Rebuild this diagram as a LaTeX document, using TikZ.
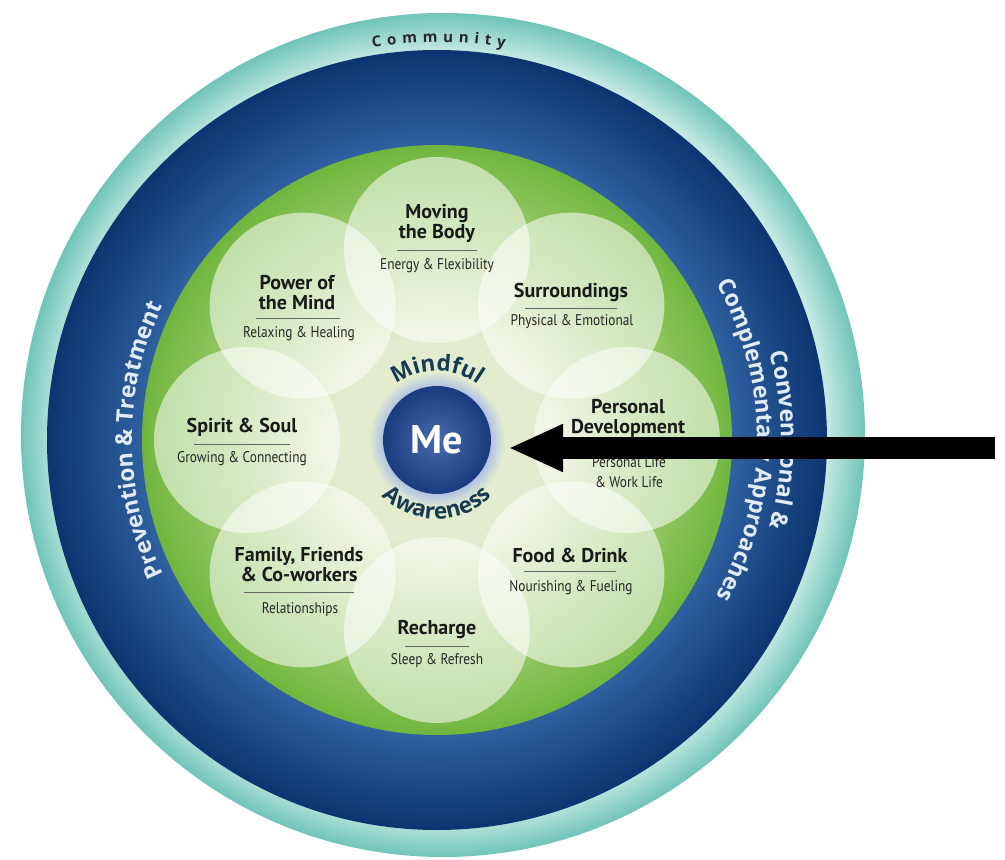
\documentclass[tikz,border=0pt]{standalone}
\usepackage{fontspec}
\usepackage{tikz}
\usetikzlibrary{arrows.meta, decorations.text, positioning}
\usepackage{xcolor}
\newfontfamily\ringfont{Open Sans}
\newfontfamily\titlefont{PT Sans}
\newfontfamily\subfont[FakeStretch=0.86]{PT Sans}
\newcommand\mindstyle{\ringfont\bfseries\fontsize{22.5}{26}\selectfont}
\newcommand\ringstyle{\ringfont\bfseries\fontsize{23}{27}\selectfont}
\newcommand\communitystyle{\ringfont\bfseries\fontsize{15}{18}\selectfont}
\definecolor{tealdark}{RGB}{112,196,184}
\definecolor{teallight}{RGB}{206,237,231}
\definecolor{navydark}{RGB}{12,52,112}
\definecolor{navylight}{RGB}{48,96,160}
\definecolor{leafgreen}{RGB}{112,182,62}
\definecolor{leafmid}{RGB}{165,207,118}
\definecolor{leafpale}{RGB}{228,236,207}
\definecolor{mecore}{RGB}{70,106,172}
\definecolor{merim}{RGB}{26,60,126}
\definecolor{meglow}{RGB}{176,194,228}
\definecolor{mindink}{RGB}{22,58,82}
\definecolor{ringink}{RGB}{226,236,248}
\pgfdeclareradialshading{communityring}{\pgfpoint{0bp}{0bp}}{color(0bp)=(teallight); color(22.5bp)=(teallight); color(25bp)=(tealdark); color(50bp)=(tealdark)}
\pgfdeclareradialshading{approachring}{\pgfpoint{0bp}{0bp}}{color(0bp)=(navylight); color(18.9bp)=(navylight); color(25bp)=(navydark); color(50bp)=(navydark)}
\pgfdeclareradialshading{lifedisk}{\pgfpoint{0bp}{0bp}}{color(0bp)=(leafpale); color(9bp)=(leafpale); color(17bp)=(leafmid); color(25bp)=(leafgreen); color(50bp)=(leafgreen)}
\pgfdeclareradialshading{meglowdisk}{\pgfpoint{0bp}{0bp}}{color(0bp)=(meglow); color(19.8bp)=(meglow); color(25bp)=(leafpale); color(50bp)=(leafpale)}
\pgfdeclareradialshading{mebulb}{\pgfpoint{0bp}{0bp}}{color(0bp)=(mecore); color(25bp)=(merim); color(50bp)=(merim)}
\tikzset{petal/.style={fill=white, fill opacity=0.55},
petaltitle/.style={font=\titlefont\bfseries\fontsize{20}{20}\selectfont, align=center, inner sep=0pt, text=black!90},
petalsub/.style={font=\subfont\fontsize{15.5}{20}\selectfont, align=center, inner sep=0pt, text=black!85},
petalrule/.style={draw=black!60, line width=0.7pt},
mecircle/.style={circle, shade, shading=mebulb, minimum size=108pt, inner sep=0pt, text=white, font=\titlefont\bfseries\fontsize{40}{40}\selectfont},
bigarrow/.style={-{Triangle[length=55pt, width=44pt]}, line width=22pt, black}}

\begin{document}
\begin{tikzpicture}[x=1pt, y=1pt]
        % Frame
        \useasboundingbox (-437,-420) rectangle (568,440);
        \fill[white] (-437,-420) rectangle (568,440);
        % Rings
        \begin{scope}
            \clip (-437,-420) rectangle (568,440);
            \shade[shading=communityring] (6,5) circle[radius=422pt];
            \shade[shading=approachring] (0,0) circle[radius=390pt];
            \shade[shading=lifedisk] (0,0) circle[radius=295pt];
        \end{scope}
        % Petals
        \foreach \a in {0,45,...,315} {
            \fill[petal] (\a:190pt) circle[radius=93pt];
        }
        % Me
        \shade[shading=meglowdisk] (0,0) circle[radius=68pt];
        \node[mecircle] (me) at (0,0) {Me};
        % Curved captions
        \path[decorate, decoration={text along path, text align=center, text color=mindink,
            text={|\mindstyle|Mindful}}] (165:69pt) arc[start angle=165, end angle=15, radius=69pt];
        \path[decorate, decoration={text along path, text align=center, text color=mindink,
            text={|\mindstyle|Awareness}}] (195:79pt) arc[start angle=195, end angle=345, radius=79pt];
        \path[decorate, decoration={text along path, text align=fit to path, text color=black!85,
            text={|\communitystyle|Community}}] (99.3:398pt) arc[start angle=99.3, end angle=80.2, radius=398pt];
        \path[decorate, decoration={text along path, text align=center, text color=ringink,
            text={|\ringstyle|Prevention {\&} Treatment}}] (235:305pt) arc[start angle=235, end angle=125, radius=305pt];
        \path[decorate, decoration={text along path, text align=center, text color=ringink,
            text={|\ringstyle|Conventional {\&}}}] (55:344pt) arc[start angle=55, end angle=-55, radius=344pt];
        \path[decorate, decoration={text along path, text align=center, text color=ringink,
            text={|\ringstyle|Complementary Approaches}}] (55:320pt) arc[start angle=55, end angle=-55, radius=320pt];
        % Petal captions
        \node[petaltitle] (moving-t) at (0,217) {Moving\\the Body};
        \node[petalsub] (moving-s) at (0,174) {Energy \& Flexibility};
        \node[petaltitle] (power-t) at (-140,147) {Power of\\the Mind};
        \node[petalsub] (power-s) at (-138,106) {Relaxing \& Healing};
        \node[petaltitle] (surround-t) at (134,148) {Surroundings};
        \node[petalsub] (surround-s) at (135,118) {Physical \& Emotional};
        \node[petaltitle] (personal-t) at (191,22) {Personal\\Development};
        \node[petalsub] (personal-s) at (192,-32) {Personal Life\\\& Work Life};
        \node[petaltitle] (spirit-t) at (-195,13) {Spirit \& Soul};
        \node[petalsub] (spirit-s) at (-195,-19) {Growing \& Connecting};
        \node[petaltitle] (family-t) at (-138,-125) {Family, Friends\\\& Co-workers};
        \node[petalsub] (family-s) at (-137,-170) {Relationships};
        \node[petaltitle] (food-t) at (133,-115) {Food \& Drink};
        \node[petalsub] (food-s) at (134,-148) {Nourishing \& Fueling};
        \node[petaltitle] (recharge-t) at (0,-190) {Recharge};
        \node[petalsub] (recharge-s) at (0,-221) {Sleep \& Refresh};
        % Rules
        \foreach \p/\w in {moving/40, power/42, surround/46, personal/45, spirit/48, family/55, food/46, recharge/32} {
            \path (\p-t.south) -- (\p-s.north) coordinate[midway] (\p-r);
            \draw[petalrule] ([xshift=-\w pt]\p-r) -- ([xshift=\w pt]\p-r);
        }
        % Arrow
        \coordinate (arrowtail) at (558,-8);
        \draw[bigarrow, shorten >=17pt] (arrowtail) -- (arrowtail -| me.east);
    \end{tikzpicture}
\end{document}
